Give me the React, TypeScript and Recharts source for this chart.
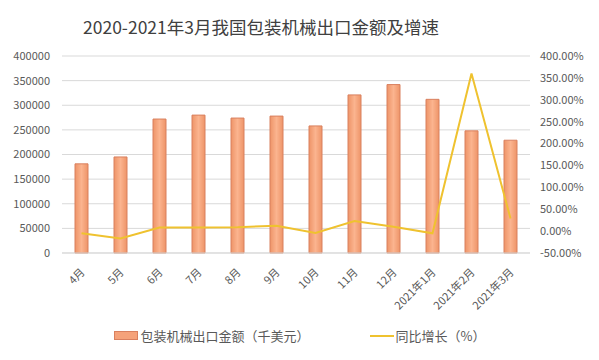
import React from "react";
import {
  ComposedChart,
  Bar,
  Line,
  XAxis,
  YAxis,
  CartesianGrid,
  Legend,
} from "recharts";

const months = [
  "4月", "5月", "6月", "7月", "8月", "9月", "10月", "11月", "12月",
  "2021年1月", "2021年2月", "2021年3月",
];
const exportValues = [
  181000, 195000, 272000, 280000, 274000, 278000, 258000, 321000, 342000,
  312000, 248000, 229000,
];
const growthPct = [-5, -17, 8, 8, 9, 12, -4, 23, 10, -5, 360, 29];

const leftTicks = [0, 50000, 100000, 150000, 200000, 250000, 300000, 350000, 400000];
const rightTicks = [-50, 0, 50, 100, 150, 200, 250, 300, 350, 400];

const barName = "包装机械出口金额（千美元）";
const lineName = "同比增长（%）";
const title = "2020-2021年3月我国包装机械出口金额及增速";

const FONT = "'Noto Sans CJK SC', 'Noto Sans', sans-serif";
const BAR_COLOR = "#F5A27A";
const BAR_STROKE = "#D9805F";
const LINE_COLOR = "#EFC22F";

const data = months.map((m, i) => ({
  month: m,
  value: exportValues[i],
  growth: growthPct[i],
}));

const MonthTick = (props: any) => {
  const { x, y, payload } = props;
  return (
    <text
      x={x + 4}
      y={y + 12}
      transform={`rotate(-45, ${x + 4}, ${y + 12})`}
      textAnchor="end"
      fontSize={11}
      fill="#595959"
      fontFamily={FONT}
    >
      {payload.value}
    </text>
  );
};

const LegendContent = () => (
  <div
    style={{
      display: "flex",
      justifyContent: "center",
      alignItems: "center",
      fontFamily: FONT,
      fontSize: 13,
      color: "#595959",
      width: 599,
    }}
  >
    <span
      style={{
        display: "inline-block",
        width: 22,
        height: 7,
        background: BAR_COLOR,
        border: `1px solid ${BAR_STROKE}`,
        marginRight: 3,
      }}
    />
    <span style={{ marginRight: 60 }}>{barName}</span>
    <span
      style={{
        display: "inline-block",
        width: 24,
        height: 2,
        background: LINE_COLOR,
        marginRight: 2,
      }}
    />
    <span>{lineName}</span>
  </div>
);

export default function App() {
  return (
    <div
      style={{
        position: "absolute",
        left: 0,
        top: 0,
        width: 599,
        height: 360,
        background: "#fff",
      }}
    >
      <div
        style={{
          position: "absolute",
          left: 0,
          top: 14,
          width: 522,
          textAlign: "center",
          fontFamily: FONT,
          fontSize: 17.5,
          color: "#404040",
          lineHeight: "26px",
        }}
      >
        {title}
      </div>
      <ComposedChart
        width={599}
        height={360}
        data={data}
        margin={{ top: 56, right: 0, bottom: 26, left: 0 }}
      >
        <defs>
          <linearGradient id="barGrad" x1="0" y1="0" x2="1" y2="0">
            <stop offset="0%" stopColor="#EE9468" />
            <stop offset="50%" stopColor="#FBB48F" />
            <stop offset="100%" stopColor="#EE9468" />
          </linearGradient>
        </defs>
        <CartesianGrid yAxisId="left" vertical={false} stroke="#D9D9D9" />
        <XAxis
          dataKey="month"
          interval={0}
          height={62}
          tick={<MonthTick />}
          tickLine={false}
          axisLine={{ stroke: "#D9D9D9" }}
        />
        <YAxis
          yAxisId="left"
          width={62}
          domain={[0, 400000]}
          ticks={leftTicks}
          axisLine={false}
          tickLine={false}
          tickMargin={6}
          tick={{ fontSize: 11, fill: "#595959", fontFamily: FONT }}
        />
        <YAxis
          yAxisId="right"
          orientation="right"
          width={69}
          domain={[-50, 400]}
          ticks={rightTicks}
          axisLine={false}
          tickLine={false}
          tickMargin={4}
          tickFormatter={(v: number) => v.toFixed(2) + "%"}
          tick={{ fontSize: 11, fill: "#595959", fontFamily: FONT }}
        />
        <Bar
          yAxisId="left"
          dataKey="value"
          name={barName}
          barSize={13}
          fill="url(#barGrad)"
          stroke={BAR_STROKE}
          strokeWidth={1}
          isAnimationActive={false}
        />
        <Line
          yAxisId="right"
          dataKey="growth"
          name={lineName}
          type="linear"
          stroke={LINE_COLOR}
          strokeWidth={2}
          dot={false}
          activeDot={false}
          isAnimationActive={false}
        />
        <Legend
          layout="vertical"
          align="center"
          verticalAlign="bottom"
          content={<LegendContent />}
          wrapperStyle={{ top: 326, left: 0, width: 599 }}
        />
      </ComposedChart>
    </div>
  );
}
